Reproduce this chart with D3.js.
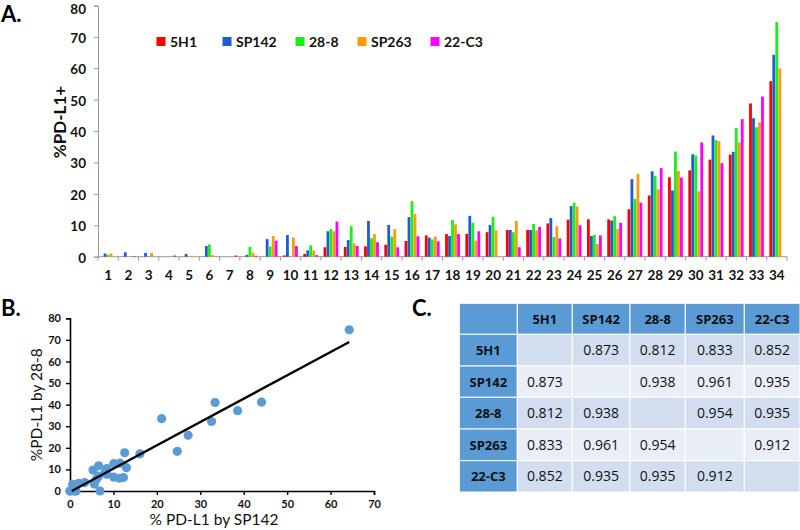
<!DOCTYPE html>
<html><head><meta charset="utf-8">
<script src="https://cdn.jsdelivr.net/npm/d3@7"></script>
<style>
html,body{margin:0;padding:0;background:#fff;}
svg{display:block;font-family:Lato, "Open Sans", sans-serif;}
</style></head>
<body>
<svg id="chart" width="800" height="530"></svg>
<script>
// ---------- data ----------
const categories = ["1","2","3","4","5","6","7","8","9","10","11","12","13","14","15","16","17","18","19","20","21","22","23","24","25","26","27","28","29","30","31","32","33","34"];
const seriesNames = ["5H1","SP142","28-8","SP263","22-C3"];
const seriesColors = ["#ff0000","#1f5bd3","#19f019","#ff9a0f","#ff00ff"];
const v5H1  = [0,0,0,0,0,0,0,0,0,0.4,0.85,3.0,3.1,3.3,3.8,5.0,6.8,7.2,7.3,7.8,8.5,8.5,10.6,11.8,11.9,11.9,15.1,19.5,25.3,27.5,30.9,32.5,48.8,55.9];
const vSP142 = [1.0,1.4,1.2,0,0.9,3.4,0,0.6,5.6,6.9,2.0,8.1,5.3,11.4,10.1,12.6,6.1,6.6,13.0,10.1,8.5,8.5,12.3,16.1,6.6,11.5,24.7,27.2,21.1,32.6,38.6,33.4,44.1,64.3];
const v288  = [0.6,0,0,0,0,3.9,0,3.1,3.2,0,3.6,8.8,9.7,5.9,6.4,17.7,5.5,11.7,10.8,12.7,7.8,10.4,6.25,17.2,6.9,12.9,18.4,25.8,33.5,32.2,37.2,41.0,41.2,74.7];
const vSP263 = [1.0,0,1.2,0,0.3,0.5,0,1.3,6.6,6.1,2.0,8.1,4.2,7.2,8.8,13.6,6.4,10.3,5.1,8.4,11.4,8.4,9.7,16.0,4.0,8.8,26.4,21.4,27.3,20.8,36.8,36.4,42.7,60.0];
const v22C3 = [0,0.2,0,0.4,0,0,0.4,0.3,5.1,3.4,0.5,11.2,3.4,4.6,3.0,6.5,4.9,7.2,8.1,0,3.0,9.5,5.8,10.0,6.8,10.8,17.2,28.2,25.2,36.4,29.8,43.8,51.0,0];
const barTicks = [0,10,20,30,40,50,60,70,80];
const scatterXTicks = [0,10,20,30,40,50,60,70];
const scatterYTicks = [0,10,20,30,40,50,60,70,80];
const trendX = [0.4, 64.3];
const trendY = [0, 69];
const tableLabels = ["5H1","SP142","28-8","SP263","22-C3"];
const tableValues = [
  ["", "0.873","0.812","0.833","0.852"],
  ["0.873","", "0.938","0.961","0.935"],
  ["0.812","0.938","", "0.954","0.935"],
  ["0.833","0.961","0.954","", "0.912"],
  ["0.852","0.935","0.935","0.912",""]
];

const allSeries = [v5H1, vSP142, v288, vSP263, v22C3];
const svg = d3.select("#chart");

// ---------- Panel A ----------
const A = {left:98, right:787, top:5.5, bottom:256.7};
const x = d3.scaleBand().domain(categories).range([A.left, A.right]).paddingInner(0).paddingOuter(0);
const xs = d3.scaleBand().domain(seriesNames).range([x.bandwidth()*0.13, x.bandwidth()*0.87]);
const y = d3.scaleLinear().domain([0,80]).range([A.bottom, A.top]);

svg.append("text").attr("x",1).attr("y",22).attr("font-size",22).attr("font-weight","bold").text("A.");

const gA = svg.append("g");
const yAx = gA.append("g").attr("transform",`translate(${A.left},0)`)
  .call(d3.axisLeft(y).tickValues(barTicks).tickSize(4).tickPadding(8));
yAx.select(".domain").attr("stroke","#999");
yAx.selectAll(".tick line").attr("stroke","#999");
yAx.selectAll("text").attr("font-size",13.5).attr("font-weight","bold").attr("fill","#111")
  .attr("font-family","Lato, sans-serif").attr("dy",d => d===80 ? "0.6em" : "0.4em");

gA.append("line").attr("x1",A.left).attr("x2",A.right).attr("y1",A.bottom).attr("y2",A.bottom).attr("stroke","#999");
const bounds = categories.map(c => x(c)).concat([A.right]);
gA.selectAll(".btick").data(bounds).join("line").attr("class","btick")
  .attr("x1",d=>d).attr("x2",d=>d).attr("y1",A.bottom).attr("y2",A.bottom+4).attr("stroke","#999");
gA.selectAll(".xlab").data(categories).join("text").attr("class","xlab")
  .attr("x",d=>x(d)+x.bandwidth()/2).attr("y",A.bottom+23.5)
  .attr("text-anchor","middle").attr("font-size",13.5).attr("font-weight","bold").attr("fill","#111").text(d=>d);

seriesNames.forEach((s,si)=>{
  gA.append("g").selectAll("rect").data(categories).join("rect")
    .attr("x",(c)=>x(c)+xs(s))
    .attr("width",xs.bandwidth()-0.2)
    .attr("y",(c,i)=>y(allSeries[si][i]))
    .attr("height",(c,i)=>A.bottom - y(allSeries[si][i]))
    .attr("fill",seriesColors[si]);
});

svg.append("text").attr("transform","translate(66,122) rotate(-90)")
  .attr("text-anchor","middle").attr("font-size",17).attr("font-weight","bold").attr("fill","#111").text("%PD-L1+");

const legendX = [161, 227, 300, 362, 435];
seriesNames.forEach((s,i)=>{
  svg.append("rect").attr("x",legendX[i]-4.5).attr("y",37).attr("width",9).attr("height",9).attr("fill",seriesColors[i]);
  svg.append("text").attr("x",legendX[i]+9).attr("y",46.5).attr("font-size",14).attr("font-weight","bold").attr("fill","#111").text(s);
});

// ---------- Panel B ----------
const B = {left:70, right:374, top:318.3, bottom:491};
const sx = d3.scaleLinear().domain([0,70]).range([B.left,B.right]);
const sy = d3.scaleLinear().domain([0,80]).range([B.bottom,B.top]);
svg.append("text").attr("x",1).attr("y",316).attr("font-size",22).attr("font-weight","bold").text("B.");

const gB = svg.append("g");
const bx = gB.append("g").attr("transform",`translate(0,${B.bottom})`)
  .call(d3.axisBottom(sx).tickValues(scatterXTicks).tickSize(4).tickPadding(5));
const by = gB.append("g").attr("transform",`translate(${B.left},0)`)
  .call(d3.axisLeft(sy).tickValues(scatterYTicks).tickSize(4).tickPadding(5));
[bx,by].forEach(g=>{
  g.select(".domain").attr("stroke","#000").attr("stroke-width",1.6);
  g.selectAll(".tick line").attr("stroke","#000").attr("stroke-width",1.4);
  g.selectAll("text").attr("font-size",11).attr("font-weight","bold").attr("fill","#111").attr("font-family","Lato, sans-serif");
});

gB.append("g").selectAll("circle").data(categories).join("circle")
  .attr("cx",(c,i)=>sx(vSP142[i])).attr("cy",(c,i)=>sy(v288[i])).attr("r",4.6).attr("fill","#5b9bd5");
gB.append("line").attr("x1",sx(trendX[0])).attr("y1",sy(trendY[0])).attr("x2",sx(trendX[1])).attr("y2",sy(trendY[1]))
  .attr("stroke","#000").attr("stroke-width",2.3);

svg.append("text").attr("x",(B.left+B.right)/2-8).attr("y",525).attr("text-anchor","middle")
  .attr("font-size",15.5).attr("fill","#111").text("% PD-L1 by SP142");
svg.append("text").attr("transform",`translate(42,${(B.top+B.bottom)/2}) rotate(-90)`).attr("text-anchor","middle")
  .attr("font-size",15.5).attr("fill","#111").text("%PD-L1 by 28-8");

// ---------- Panel C ----------
svg.append("text").attr("x",412).attr("y",316).attr("font-size",22).attr("font-weight","bold").text("C.");
const colEdges = [459.3, 517.3, 572.3, 630, 685.3, 744.3, 800];
const rowEdges = [303.3, 334.3, 366, 397.3, 429, 460.7, 492];
const gC = svg.append("g").attr("font-family","'Open Sans', sans-serif");
const headerBlue = "#5b9bd5", rowDark = "#d2deef", rowLight = "#eaeff7";
for (let r=0; r<6; r++){
  for (let c=0; c<6; c++){
    let fill;
    if (r===0 || c===0) fill = headerBlue;
    else fill = (r%2===1) ? rowDark : rowLight;
    gC.append("rect").attr("x",colEdges[c]).attr("y",rowEdges[r])
      .attr("width",colEdges[c+1]-colEdges[c]).attr("height",rowEdges[r+1]-rowEdges[r])
      .attr("fill",fill).attr("stroke","#fff").attr("stroke-width",1);
    let txt = "", bold = false;
    if (r===0 && c>0){ txt = tableLabels[c-1]; bold = true; }
    else if (c===0 && r>0){ txt = tableLabels[r-1]; bold = true; }
    else if (r>0 && c>0){ txt = tableValues[r-1][c-1]; }
    if (txt){
      gC.append("text").attr("x",(colEdges[c]+colEdges[c+1])/2).attr("y",(rowEdges[r]+rowEdges[r+1])/2+5)
        .attr("text-anchor","middle").attr("font-size",bold?13:14).attr("font-weight",bold?"bold":"normal")
        .attr("fill","#111").text(txt);
    }
  }
}
</script>
</body></html>
